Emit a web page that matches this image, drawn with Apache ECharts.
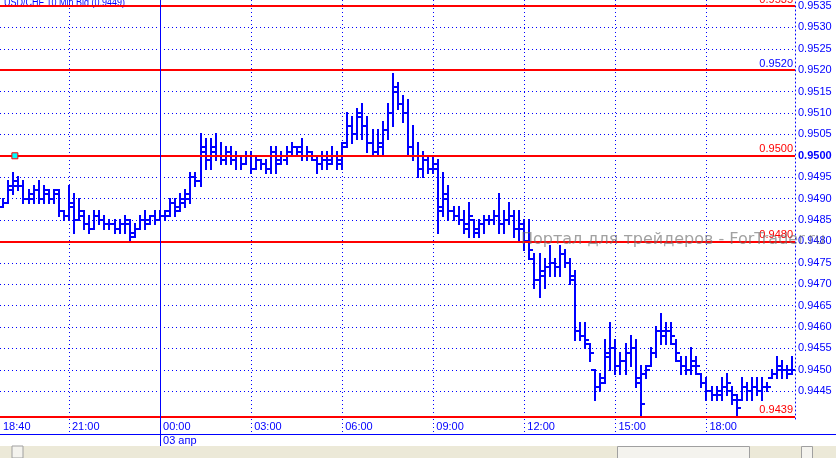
<!DOCTYPE html>
<html>
<head>
<meta charset="utf-8">
<script src="https://cdn.jsdelivr.net/npm/echarts@6/dist/echarts.min.js"></script>
<style>
html, body { margin: 0; padding: 0; background: #fff; }
#chart { width: 836px; height: 458px; }
</style>
</head>
<body>
<div id="chart"></div>
<script>
// USD/CHF 10 min bars (bid), bar 0 = 18:40, one bar every 10 minutes
const opens = [
    0.9486, 0.9488, 0.9489, 0.9492, 0.9494, 0.9493, 0.9490, 0.9490, 0.9492, 0.9490,
    0.9492, 0.9490, 0.9491, 0.9487, 0.9486, 0.9489, 0.9485, 0.9486, 0.9484, 0.9483,
    0.9486, 0.9485, 0.9484, 0.9484, 0.9483, 0.9484, 0.9484, 0.9482, 0.9483, 0.9485,
    0.9485, 0.9486, 0.9485, 0.9486, 0.9487, 0.9489, 0.9488, 0.9489, 0.9490, 0.9495,
    0.9494, 0.9502, 0.9499, 0.9502, 0.9500, 0.9499, 0.9501, 0.9499, 0.9500, 0.9498,
    0.9500, 0.9497, 0.9499, 0.9498, 0.9497, 0.9501, 0.9499, 0.9499, 0.9501, 0.9502,
    0.9502, 0.9500, 0.9500, 0.9499, 0.9498, 0.9500, 0.9499, 0.9500, 0.9498, 0.9503,
    0.9507, 0.9505, 0.9510, 0.9507, 0.9503, 0.9501, 0.9502, 0.9506, 0.9510, 0.9516,
    0.9512, 0.9510, 0.9502, 0.9500, 0.9497, 0.9499, 0.9497, 0.9497, 0.9488, 0.9491,
    0.9487, 0.9486, 0.9485, 0.9483, 0.9485, 0.9482, 0.9484, 0.9485, 0.9485, 0.9486,
    0.9484, 0.9485, 0.9486, 0.9483, 0.9483, 0.9480, 0.9476, 0.9471, 0.9472, 0.9474,
    0.9475, 0.9474, 0.9477, 0.9475, 0.9471, 0.9459, 0.9458, 0.9456, 0.9450, 0.9446,
    0.9448, 0.9453, 0.9455, 0.9451, 0.9452, 0.9454, 0.9455, 0.9447, 0.9449, 0.9451,
    0.9454, 0.9459, 0.9458, 0.9459, 0.9456, 0.9452, 0.9451, 0.9450, 0.9452, 0.9449,
    0.9447, 0.9445, 0.9444, 0.9444, 0.9446, 0.9445, 0.9443, 0.9443, 0.9446, 0.9445,
    0.9446, 0.9445, 0.9446, 0.9448, 0.9449, 0.9451, 0.9450, 0.9450
];
const highs = [
    0.9489, 0.9490, 0.9494, 0.9496, 0.9495, 0.9494, 0.9492, 0.9493, 0.9494, 0.9493,
    0.9492, 0.9492, 0.9492, 0.9487, 0.9493, 0.9491, 0.9490, 0.9487, 0.9486, 0.9487,
    0.9487, 0.9486, 0.9485, 0.9485, 0.9485, 0.9486, 0.9485, 0.9484, 0.9486, 0.9487,
    0.9486, 0.9487, 0.9487, 0.9487, 0.9490, 0.9490, 0.9491, 0.9492, 0.9496, 0.9496,
    0.9505, 0.9504, 0.9504, 0.9505, 0.9503, 0.9502, 0.9502, 0.9501, 0.9500, 0.9501,
    0.9501, 0.9500, 0.9499, 0.9499, 0.9502, 0.9502, 0.9501, 0.9502, 0.9503, 0.9502,
    0.9504, 0.9502, 0.9501, 0.9500, 0.9501, 0.9501, 0.9502, 0.9501, 0.9503, 0.9510,
    0.9509, 0.9511, 0.9512, 0.9509, 0.9506, 0.9506, 0.9508, 0.9512, 0.9519, 0.9517,
    0.9514, 0.9513, 0.9507, 0.9503, 0.9501, 0.9500, 0.9500, 0.9499, 0.9496, 0.9493,
    0.9488, 0.9488, 0.9487, 0.9489, 0.9485, 0.9485, 0.9486, 0.9486, 0.9487, 0.9491,
    0.9487, 0.9489, 0.9487, 0.9487, 0.9485, 0.9485, 0.9477, 0.9477, 0.9476, 0.9479,
    0.9476, 0.9479, 0.9478, 0.9476, 0.9473, 0.9461, 0.9461, 0.9456, 0.9450, 0.9449,
    0.9457, 0.9461, 0.9457, 0.9454, 0.9456, 0.9458, 0.9457, 0.9451, 0.9451, 0.9455,
    0.9460, 0.9463, 0.9461, 0.9461, 0.9457, 0.9453, 0.9453, 0.9455, 0.9453, 0.9449,
    0.9448, 0.9446, 0.9446, 0.9448, 0.9449, 0.9446, 0.9444, 0.9448, 0.9447, 0.9448,
    0.9448, 0.9448, 0.9447, 0.9450, 0.9453, 0.9452, 0.9451, 0.9453
];
const lows = [
    0.9485, 0.9488, 0.9489, 0.9491, 0.9492, 0.9489, 0.9489, 0.9489, 0.9489, 0.9489,
    0.9489, 0.9489, 0.9486, 0.9485, 0.9485, 0.9482, 0.9485, 0.9483, 0.9482, 0.9483,
    0.9484, 0.9483, 0.9483, 0.9482, 0.9482, 0.9482, 0.9480, 0.9481, 0.9483, 0.9483,
    0.9484, 0.9484, 0.9485, 0.9485, 0.9486, 0.9486, 0.9487, 0.9488, 0.9489, 0.9493,
    0.9493, 0.9497, 0.9497, 0.9499, 0.9498, 0.9498, 0.9498, 0.9497, 0.9497, 0.9498,
    0.9496, 0.9497, 0.9497, 0.9496, 0.9496, 0.9496, 0.9498, 0.9498, 0.9500, 0.9500,
    0.9499, 0.9499, 0.9499, 0.9496, 0.9497, 0.9497, 0.9498, 0.9497, 0.9497, 0.9502,
    0.9503, 0.9504, 0.9504, 0.9501, 0.9500, 0.9500, 0.9500, 0.9504, 0.9507, 0.9511,
    0.9508, 0.9500, 0.9499, 0.9495, 0.9495, 0.9496, 0.9496, 0.9482, 0.9486, 0.9485,
    0.9485, 0.9484, 0.9482, 0.9481, 0.9481, 0.9481, 0.9482, 0.9484, 0.9484, 0.9482,
    0.9482, 0.9484, 0.9481, 0.9480, 0.9478, 0.9476, 0.9469, 0.9467, 0.9469, 0.9472,
    0.9472, 0.9472, 0.9474, 0.9470, 0.9457, 0.9457, 0.9455, 0.9452, 0.9443, 0.9445,
    0.9447, 0.9450, 0.9449, 0.9449, 0.9449, 0.9451, 0.9446, 0.9439, 0.9448, 0.9451,
    0.9453, 0.9456, 0.9456, 0.9456, 0.9452, 0.9449, 0.9449, 0.9449, 0.9449, 0.9446,
    0.9443, 0.9443, 0.9443, 0.9443, 0.9444, 0.9442, 0.9439, 0.9443, 0.9443, 0.9443,
    0.9444, 0.9443, 0.9445, 0.9448, 0.9448, 0.9448, 0.9448, 0.9449
];
const closes = [
    0.9488, 0.9489, 0.9493, 0.9493, 0.9493, 0.9490, 0.9491, 0.9492, 0.9490, 0.9491,
    0.9490, 0.9492, 0.9487, 0.9486, 0.9488, 0.9485, 0.9487, 0.9484, 0.9483, 0.9486,
    0.9485, 0.9484, 0.9484, 0.9483, 0.9484, 0.9485, 0.9481, 0.9483, 0.9485, 0.9484,
    0.9486, 0.9485, 0.9486, 0.9486, 0.9489, 0.9487, 0.9490, 0.9491, 0.9495, 0.9494,
    0.9501, 0.9499, 0.9501, 0.9500, 0.9499, 0.9500, 0.9499, 0.9500, 0.9498, 0.9500,
    0.9497, 0.9499, 0.9498, 0.9497, 0.9501, 0.9498, 0.9500, 0.9501, 0.9502, 0.9501,
    0.9500, 0.9501, 0.9500, 0.9498, 0.9499, 0.9498, 0.9500, 0.9499, 0.9502, 0.9507,
    0.9505, 0.9509, 0.9507, 0.9503, 0.9501, 0.9503, 0.9506, 0.9510, 0.9515, 0.9512,
    0.9510, 0.9502, 0.9500, 0.9497, 0.9499, 0.9497, 0.9498, 0.9487, 0.9490, 0.9487,
    0.9486, 0.9485, 0.9484, 0.9486, 0.9483, 0.9484, 0.9485, 0.9485, 0.9486, 0.9484,
    0.9485, 0.9486, 0.9483, 0.9484, 0.9480, 0.9478, 0.9471, 0.9473, 0.9474, 0.9475,
    0.9474, 0.9477, 0.9475, 0.9472, 0.9459, 0.9458, 0.9457, 0.9454, 0.9446, 0.9447,
    0.9454, 0.9455, 0.9451, 0.9452, 0.9454, 0.9455, 0.9448, 0.9442, 0.9450, 0.9454,
    0.9459, 0.9459, 0.9459, 0.9458, 0.9454, 0.9451, 0.9450, 0.9451, 0.9451, 0.9447,
    0.9445, 0.9444, 0.9445, 0.9446, 0.9447, 0.9444, 0.9441, 0.9446, 0.9445, 0.9446,
    0.9445, 0.9446, 0.9446, 0.9449, 0.9450, 0.9450, 0.9449, 0.9450
];

// time axis: bar index positions of the labels
const xMin = 0.36;
const xMax = 157.5;
const xGridPos = [14, 32, 50, 68, 86, 104, 122, 140];
const xLabelPos = [0.36, 14, 32, 50, 68, 86, 104, 122, 140];
const xLabels = ['18:40', '21:00', '00:00', '03:00', '06:00', '09:00', '12:00', '15:00', '18:00'];
const dayStartPos = [32];
const dayLabel = '03 апр';

// price axis
const yMin = 0.94385;
const yMax = 0.95364;
const yTicks = [
    0.9445, 0.9450, 0.9455, 0.9460, 0.9465, 0.9470, 0.9475, 0.9480, 0.9485, 0.9490,
    0.9495, 0.9500, 0.9505, 0.9510, 0.9515, 0.9520, 0.9525, 0.9530, 0.9535
];

// horizontal level lines
const levels = [0.9535, 0.9520, 0.9500, 0.9480, 0.9439];
const levelLabelColors = ['#FF0000', '#0000FF', '#FF0000', '#FF0000', '#FF0000'];
const markerPos = [3.3, 0.9500];

const BLUE = '#0000FF';
const RED = '#FF0000';
const FONT = 'Liberation Sans, Arial, sans-serif';

const barData = opens.map((o, i) => [i, o, closes[i], lows[i], highs[i]]);

// OHLC bar: stem low..high, open tick on the left, close tick on the right
function renderBar(params, api) {
    const i = api.value(0);
    const pO = api.coord([i, api.value(1)]);
    const pC = api.coord([i, api.value(2)]);
    const pL = api.coord([i, api.value(3)]);
    const pH = api.coord([i, api.value(4)]);
    const x = Math.round(pO[0]);
    const yo = Math.round(pO[1]);
    const yc = Math.round(pC[1]);
    const yh = Math.round(pH[1]);
    const yl = Math.round(pL[1]);
    const style = { fill: BLUE };
    return {
        type: 'group',
        children: [
            { type: 'rect', shape: { x: x - 1, y: yh - 1, width: 2, height: yl - yh + 2 }, style },
            { type: 'rect', shape: { x: x - 4, y: yo - 1, width: 3, height: 2 }, style },
            { type: 'rect', shape: { x: x + 1, y: yc - 1, width: 3, height: 2 }, style }
        ]
    };
}

const chart = echarts.init(document.getElementById('chart'), null, { renderer: 'canvas' });

const dotted = { color: BLUE, width: 1, type: [1, 3] };

const option = {
    animation: false,
    backgroundColor: '#FFFFFF',
    grid: { left: 0, top: 0, width: 795, height: 419 },
    xAxis: [
        {
            type: 'value',
            min: xMin,
            max: xMax,
            position: 'bottom',
            axisLine: { show: false },
            axisTick: { show: true, customValues: xGridPos, length: 15, lineStyle: dotted },
            splitLine: { show: true, lineStyle: dotted },
            axisLabel: {
                customValues: xLabelPos,
                formatter: (v) => {
                    let k = 0;
                    xLabelPos.forEach((p, j) => { if (Math.abs(p - v) < Math.abs(xLabelPos[k] - v)) k = j; });
                    return xLabels[k];
                },
                align: 'left',
                padding: [0, 0, 0, 3],
                margin: 2,
                color: BLUE,
                fontSize: 11,
                fontFamily: FONT
            }
        },
        {
            type: 'value',
            min: xMin,
            max: xMax,
            position: 'bottom',
            axisLine: { show: false },
            axisTick: { show: true, customValues: dayStartPos, length: 27, lineStyle: { color: BLUE, width: 1 } },
            splitLine: { show: false },
            axisLabel: {
                customValues: dayStartPos,
                formatter: () => dayLabel,
                align: 'left',
                padding: [0, 0, 0, 3],
                margin: 16,
                color: BLUE,
                fontSize: 11,
                fontFamily: FONT
            }
        }
    ],
    yAxis: {
        type: 'value',
        min: yMin,
        max: yMax,
        position: 'right',
        axisLine: { show: true, lineStyle: dotted },
        axisTick: { show: false, customValues: yTicks },
        splitLine: { show: true, lineStyle: dotted },
        axisLabel: {
            customValues: yTicks,
            margin: 3,
            color: BLUE,
            fontSize: 11,
            fontFamily: FONT,
            formatter: (v) => (Math.abs(v - 0.95) < 1e-7 ? '{b|0.9500}' : v.toFixed(4)),
            rich: { b: { fontWeight: 'bold', color: BLUE, fontSize: 11, fontFamily: FONT } }
        }
    },
    series: [
        {
            type: 'custom',
            name: 'USD/CHF',
            renderItem: renderBar,
            data: barData,
            encode: { x: 0, y: [1, 2, 3, 4] },
            clip: true,
            z: 2,
            markLine: {
                symbol: 'none',
                silent: true,
                animation: false,
                precision: 4,
                z: 6,
                data: levels.map((v, k) => ({
                    yAxis: v,
                    lineStyle: { color: RED, width: 2, type: 'solid' },
                    label: {
                        show: true,
                        position: 'insideEndTop',
                        distance: [2, 1],
                        formatter: v.toFixed(4),
                        color: levelLabelColors[k],
                        fontSize: 11,
                        fontFamily: FONT
                    }
                })).concat([{
                    xAxis: dayStartPos[0],
                    lineStyle: { color: BLUE, width: 1, type: 'solid' },
                    label: { show: false }
                }])
            },
            markPoint: {
                silent: true,
                animation: false,
                z: 7,
                data: [{
                    coord: markerPos,
                    symbol: 'rect',
                    symbolSize: 6,
                    itemStyle: { color: '#00FFFF', borderColor: RED, borderWidth: 1 },
                    label: { show: false }
                }]
            }
        }
    ],
    graphic: [
        {
            type: 'text', left: 4, top: -2, z: 2,
            scaleX: 0.9,
            style: { text: 'USD/CHF 10 Min Bid (0.9449)', fill: BLUE, font: '10px ' + FONT }
        },
        {
            type: 'text', x: 521, y: 239.5, z: 20,
            style: {
                text: 'Портал для трейдеров - ForTrader.ru',
                fill: 'rgba(110,110,110,0.65)',
                font: '16px DejaVu Sans, sans-serif',
                verticalAlign: 'middle'
            }
        },
        {
            type: 'line', z: 10,
            shape: { x1: 0, y1: 434.5, x2: 836, y2: 434.5 },
            style: { stroke: BLUE, lineWidth: 1 }
        },
        {
            type: 'rect', z: 10,
            shape: { x: 0, y: 446, width: 836, height: 12 },
            style: { fill: '#ECE9D8' }
        },
        {
            type: 'rect', z: 11,
            shape: { x: 12, y: 446, width: 11, height: 12 },
            style: { fill: '#F4F3EE', stroke: '#A0A0A0', lineWidth: 1 }
        },
        {
            type: 'rect', z: 11,
            shape: { x: 617.5, y: 446.5, width: 132, height: 12 },
            style: { fill: '#F4F3EE', stroke: '#A0A0A0', lineWidth: 1 }
        },
        {
            type: 'rect', z: 11,
            shape: { x: 801.5, y: 446.5, width: 11, height: 12 },
            style: { fill: '#F4F3EE', stroke: '#A0A0A0', lineWidth: 1 }
        }
    ]
};

chart.setOption(option);
</script>
</body>
</html>
